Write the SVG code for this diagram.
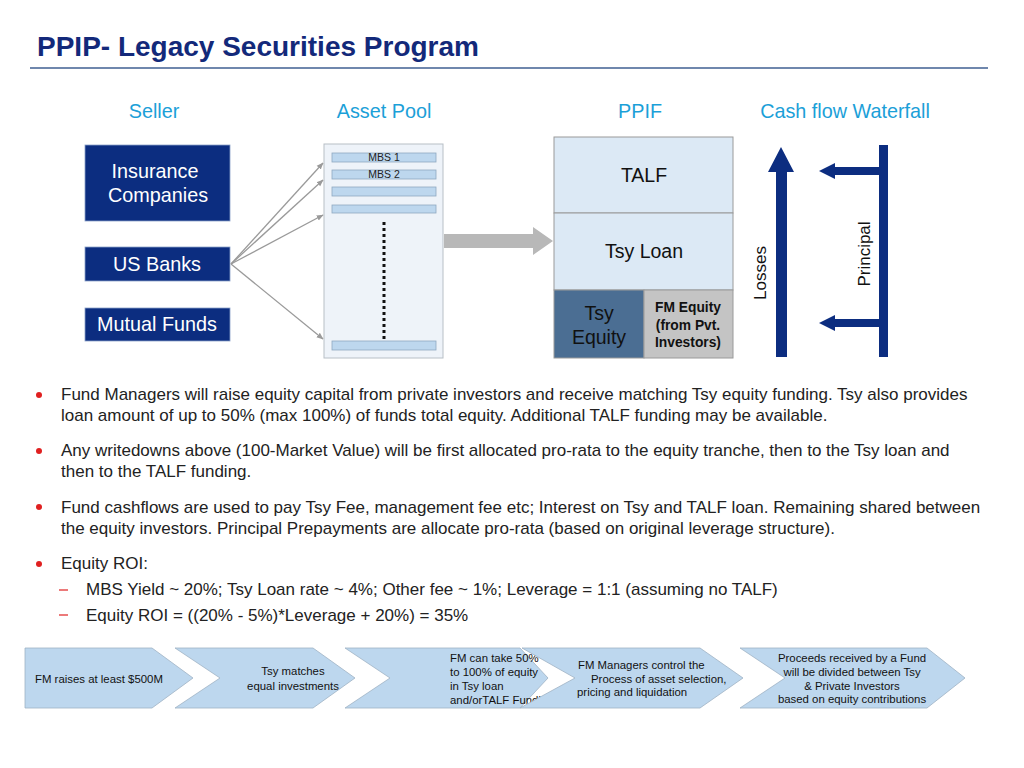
<svg xmlns="http://www.w3.org/2000/svg" width="1024" height="768" viewBox="0 0 1024 768">
<style>
text{font-family:"Liberation Sans",Arial,sans-serif}
.hdr{font-size:19.8px;fill:#1ba0d8;text-anchor:middle}
.sel{fill:#0c2d80;stroke:#8aa0c8;stroke-width:0.8}
.selt{font-size:19.8px;fill:#fff;text-anchor:middle}
.bar{fill:#bdd7ee;stroke:#8fa8c0;stroke-width:0.8}
.mbs{font-size:10.5px;fill:#222;text-anchor:middle}
.conn{stroke:#9a9a9a;stroke-width:1.3;fill:none;marker-end:url(#ah)}
.ppif{fill:#dce9f5;stroke:#9a9a9a;stroke-width:1}
.pt{font-size:19.5px;fill:#111;text-anchor:middle}
.navy{fill:#0c2d80}
.bul{font-size:17px;fill:#222}
.dot{fill:#e02020}
.chev{fill:#bdd7ee;stroke:#9fb2c4;stroke-width:0.8}
.ct{font-size:11.4px;fill:#111}
.fm{font-size:13.8px;font-weight:bold;fill:#111;text-anchor:middle}
</style>
<defs>
<marker id="ah" viewBox="0 0 10 10" refX="9" refY="5" markerWidth="7" markerHeight="7" orient="auto" markerUnits="userSpaceOnUse">
<path d="M0,1 L10,5 L0,9 z" fill="#9a9a9a"/>
</marker>
</defs>
<rect width="1024" height="768" fill="#fff"/>
<text x="37" y="56" font-size="28" font-weight="bold" fill="#13297a">PPIP- Legacy Securities Program</text>
<line x1="30" y1="68" x2="988" y2="68" stroke="#3f5f92" stroke-width="1.5"/>
<g id="headers">
<text class="hdr" x="154" y="118">Seller</text>
<text class="hdr" x="384" y="118">Asset Pool</text>
<text class="hdr" x="640" y="118">PPIF</text>
<text class="hdr" x="845" y="118">Cash flow Waterfall</text>
</g>
<g id="insurance">
<rect class="sel" x="85" y="145" width="145" height="76"/>
<text class="selt" x="155" y="178">Insurance</text>
<text class="selt" x="158" y="202">Companies</text>
</g>
<g id="usbanks">
<rect class="sel" x="85" y="247" width="145" height="34"/>
<text class="selt" x="157" y="271">US Banks</text>
</g>
<g id="mutual">
<rect class="sel" x="85" y="308" width="145" height="33"/>
<text class="selt" x="157" y="331">Mutual Funds</text>
</g>
<g id="assetpool">
<rect x="324" y="144" width="119" height="214" fill="#eef3f9" stroke="#b8bfc6" stroke-width="1"/>
<rect class="bar" x="332" y="153" width="104" height="9"/>
<text class="mbs" x="384" y="161">MBS 1</text>
<rect class="bar" x="332" y="170" width="104" height="9"/>
<text class="mbs" x="384" y="178">MBS 2</text>
<rect class="bar" x="332" y="187" width="104" height="9"/>
<rect class="bar" x="332" y="205" width="104" height="8"/>
<line x1="384" y1="222" x2="384" y2="341" stroke="#111" stroke-width="3" stroke-dasharray="3,3"/>
<rect class="bar" x="332" y="341" width="104" height="9"/>
</g>
<g id="connectors">
<line class="conn" x1="231" y1="264" x2="323" y2="163"/>
<line class="conn" x1="231" y1="264" x2="323" y2="180"/>
<line class="conn" x1="231" y1="264" x2="323" y2="215"/>
<line class="conn" x1="231" y1="264" x2="323" y2="339"/>
<path d="M444,234 L533,234 L533,227 L553,241 L533,255 L533,248 L444,248 z" fill="#b8b8b8"/>
</g>
<g id="ppif">
<rect class="ppif" x="554" y="137" width="179" height="76"/>
<text class="pt" x="644" y="182">TALF</text>
<rect class="ppif" x="554" y="213" width="179" height="77"/>
<text class="pt" x="644" y="258">Tsy Loan</text>
<rect x="554" y="290" width="90" height="68" fill="#4b6e93" stroke="#9a9a9a"/>
<text class="pt" x="599" y="320">Tsy</text>
<text class="pt" x="599" y="344">Equity</text>
<rect x="644" y="290" width="89" height="68" fill="#c4c4c4" stroke="#9a9a9a"/>
<text class="fm" x="688" y="312">FM Equity</text>
<text class="fm" x="688" y="330">(from Pvt.</text>
<text class="fm" x="688" y="347">Investors)</text>
</g>
<g id="losses">
<path class="navy" d="M776,357 L776,172 L768,172 L781,147 L794,172 L787,172 L787,357 z"/>
<text x="0" y="0" font-size="17" fill="#111" text-anchor="middle" transform="translate(766,273) rotate(-90)">Losses</text>
</g>
<g id="principal">
<rect class="navy" x="879" y="145" width="9" height="212"/>
<path class="navy" d="M879,167 L835,167 L835,163 L819,171 L835,179 L835,175 L879,175 z"/>
<path class="navy" d="M879,319 L835,319 L835,315 L819,323 L835,331 L835,327 L879,327 z"/>
<text x="0" y="0" font-size="17" fill="#111" text-anchor="middle" transform="translate(870,254) rotate(-90)">Principal</text>
</g>
<g id="bullets">
<circle class="dot" cx="39" cy="395" r="3"/>
<text class="bul" x="61" y="400">Fund Managers will raise equity capital from private investors and receive matching Tsy equity funding. Tsy also provides</text>
<text class="bul" x="61" y="421">loan amount of up to 50% (max 100%) of funds total equity. Additional TALF funding may be available.</text>
<circle class="dot" cx="39" cy="451" r="3"/>
<text class="bul" x="61" y="456">Any writedowns above (100-Market Value) will be first allocated pro-rata to the equity tranche, then to the Tsy loan and</text>
<text class="bul" x="61" y="477">then to the TALF funding.</text>
<circle class="dot" cx="39" cy="507" r="3"/>
<text class="bul" x="61" y="513">Fund cashflows are used to pay Tsy Fee, management fee etc; Interest on Tsy and TALF loan. Remaining shared between</text>
<text class="bul" x="61" y="534">the equity investors. Principal Prepayments are allocate pro-rata (based on original leverage structure).</text>
<circle class="dot" cx="39" cy="564" r="3"/>
<text class="bul" x="61" y="569">Equity ROI:</text>
<line x1="59" y1="590" x2="68" y2="590" stroke="#e02020" stroke-width="1.2"/>
<text class="bul" x="86" y="595">MBS Yield ~ 20%; Tsy Loan rate ~ 4%; Other fee ~ 1%; Leverage = 1:1 (assuming no TALF)</text>
<line x1="59" y1="615" x2="68" y2="615" stroke="#e02020" stroke-width="1.2"/>
<text class="bul" x="86" y="621">Equity ROI = ((20% - 5%)*Leverage + 20%) = 35%</text>
</g>
<g id="step1">
<path class="chev" d="M25,648 L152,648 L193,678 L152,708 L25,708 z"/>
<text class="ct" x="35" y="683">FM raises at least $500M</text>
</g>
<g id="step2">
<path class="chev" d="M175,648 L313,648 L355,678 L313,708 L175,708 L220,678 z"/>
<text class="ct" x="293" y="675" text-anchor="middle">Tsy matches</text>
<text class="ct" x="293" y="690" text-anchor="middle">equal investments</text>
</g>
<g id="step3">
<path class="chev" d="M345,648 L520,648 L548,678 L520,708 L345,708 L390,678 z"/>
<text class="ct" x="450" y="662">FM can take 50%</text>
<text class="ct" x="450" y="676">to 100% of equity</text>
<text class="ct" x="450" y="690">in Tsy loan</text>
<text class="ct" x="450" y="704">and/orTALF Funding</text>
</g>
<g id="step4">
<path class="chev" d="M522,648 L700,648 L743,678 L700,708 L520,708 L575,678 z" stroke="#fff" stroke-width="1.5"/>
<text class="ct" x="578" y="669">FM Managers control the</text>
<text class="ct" x="591" y="683">Process of asset selection,</text>
<text class="ct" x="577" y="696">pricing and liquidation</text>
</g>
<g id="step5">
<path class="chev" d="M740,648 L927,648 L965,678 L927,708 L740,708 L785,678 z"/>
<text class="ct" x="852" y="662" text-anchor="middle">Proceeds received by a Fund</text>
<text class="ct" x="852" y="676" text-anchor="middle">will be divided between Tsy</text>
<text class="ct" x="852" y="690" text-anchor="middle">&amp; Private Investors</text>
<text class="ct" x="852" y="703" text-anchor="middle">based on equity contributions</text>
</g>
</svg>
